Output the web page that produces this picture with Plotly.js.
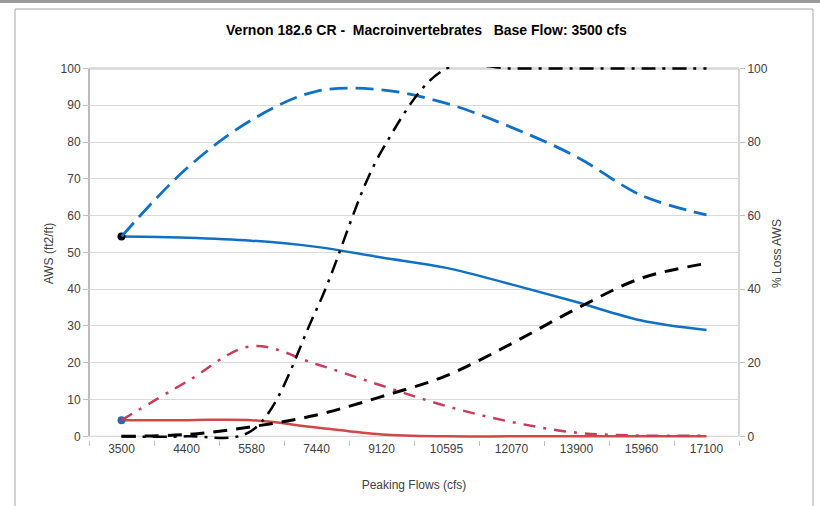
<!DOCTYPE html>
<html>
<head>
<meta charset="utf-8">
<script src="https://cdn.plot.ly/plotly-3.0.1.min.js"></script>
<style>
  html, body { margin: 0; padding: 0; background: #ffffff; }
  #chart { width: 820px; height: 506px; }
</style>
</head>
<body>
<div id="chart"></div>
<script>
// ---- data ----
const categories = ['3500', '4400', '5580', '7440', '9120', '10595', '12070', '13900', '15960', '17100'];
const blueSolid    = [54.3, 54.0, 53.2, 51.5, 48.6, 45.8, 41.3, 36.5, 31.5, 28.9];
const blueDashed   = [54.3, 72.8, 86.0, 93.8, 94.2, 90.5, 84.0, 76.0, 65.5, 60.2];
const redSolid     = [4.4, 4.4, 4.4, 2.4, 0.5, 0, 0, 0, 0, 0];
const redDashDot   = [4.4, 14.8, 24.5, 19.6, 13.8, 8.2, 3.9, 1.0, 0.2, 0.2];
const blackDashed  = [0, 0.5, 2.6, 5.8, 10.8, 16.5, 25.2, 34.7, 43.0, 47.0];
const blackDashDot = [0, 0, 1.5, 34.5, 77.5, 100, 100, 100, 100, 100];
const baseCategory = ['3500'];
const baseAwsHigh  = [54.3];
const baseAwsLow   = [4.4];
const leftTicks  = [0, 10, 20, 30, 40, 50, 60, 70, 80, 90, 100];
const rightTicks = [0, 20, 40, 60, 80, 100];

const BLUE = '#1170c4';
const RED = '#d0484a';
const PINK = '#c83c5c';
const BLACK = '#000000';

function line(y, color, width, dash, axis) {
  return {
    x: categories, y: y, type: 'scatter', mode: 'lines',
    yaxis: axis || 'y',
    line: { color: color, width: width, dash: dash, shape: 'spline', smoothing: 1 },
    hoverinfo: 'skip', showlegend: false
  };
}

const traces = [
  line(blueSolid, BLUE, 2.5, 'solid', 'y'),
  line(redSolid, RED, 2.5, 'solid', 'y'),
  line(blueDashed, BLUE, 2.8, '18px,8px', 'y2'),
  line(redDashDot, PINK, 2.5, '12px,8px,3px,8px', 'y2'),
  line(blackDashed, BLACK, 3, '14px,9px', 'y2'),
  line(blackDashDot, BLACK, 2.5, '14px,7px,3px,7px', 'y2'),
  { x: baseCategory, y: baseAwsHigh, type: 'scatter', mode: 'markers',
    marker: { color: '#000000', size: 8 }, hoverinfo: 'skip', showlegend: false, cliponaxis: false },
  { x: baseCategory, y: baseAwsLow, type: 'scatter', mode: 'markers',
    marker: { color: '#2a6aa8', size: 8 }, hoverinfo: 'skip', showlegend: false, cliponaxis: false }
];

const FONT = 'Liberation Sans, Arial, sans-serif';
const tickFont = { family: FONT, size: 12, color: '#404040' };
const Y_RANGE = [-1, 100.4];

const layout = {
  width: 820, height: 506,
  margin: { l: 89, r: 81, t: 67, b: 66 },
  paper_bgcolor: '#ffffff', plot_bgcolor: '#ffffff',
  showlegend: false,
  title: {
    text: '<b>Vernon 182.6 CR -  Macroinvertebrates   Base Flow: 3500 cfs</b>',
    font: { family: FONT, size: 14, color: '#000000' },
    x: 0.52, xref: 'container', xanchor: 'center',
    y: 1 - 30 / 506, yref: 'container', yanchor: 'middle'
  },
  xaxis: {
    type: 'category', categoryorder: 'array', categoryarray: categories,
    range: [-0.5, 9.5], tickson: 'boundaries',
    ticks: 'outside', ticklen: 5, tickcolor: '#bfbfbf',
    showgrid: false, zeroline: false, showline: false,
    tickfont: tickFont,
    title: { text: 'Peaking Flows (cfs)', font: { family: FONT, size: 12, color: '#404040' }, standoff: 25 }
  },
  yaxis: {
    range: Y_RANGE, tickmode: 'array', tickvals: leftTicks,
    ticks: 'outside', ticklen: 5, tickcolor: '#bfbfbf',
    showgrid: true, gridcolor: '#d9d9d9', gridwidth: 1,
    zeroline: false, showline: false,
    tickfont: tickFont,
    title: { text: 'AWS (ft2/ft)', font: { family: FONT, size: 12, color: '#404040' }, standoff: 4 }
  },
  yaxis2: {
    overlaying: 'y', side: 'right',
    range: Y_RANGE, tickmode: 'array', tickvals: rightTicks,
    ticks: 'outside', ticklen: 5, tickcolor: '#bfbfbf',
    showgrid: false, zeroline: false, showline: false,
    tickfont: tickFont,
    title: { text: '% Loss AWS', font: { family: FONT, size: 12, color: '#404040' }, standoff: 5 }
  },
  shapes: [
    // top band of the screenshot
    { type: 'line', xref: 'paper', yref: 'paper', x0: -89 / 650, x1: 731 / 650, y0: 1 + 65.5 / 373, y1: 1 + 65.5 / 373,
      line: { color: '#9a9a9a', width: 3 } },
    // outer chart frame
    { type: 'rect', xref: 'paper', yref: 'paper', x0: -74 / 650, x1: 724 / 650, y0: -80 / 373, y1: 1 + 58 / 373,
      line: { color: '#a6a6a6', width: 1 }, fillcolor: 'rgba(0,0,0,0)', layer: 'below' },
    // left axis line
    { type: 'line', xref: 'paper', yref: 'y', x0: 0, x1: 0, y0: 0, y1: 100, line: { color: '#a6a6a6', width: 1.5 }, layer: 'below' },
    // right axis line
    { type: 'line', xref: 'paper', yref: 'y', x0: 1, x1: 1, y0: 0, y1: 100, line: { color: '#c8c8c8', width: 1.5 }, layer: 'below' },
    // bottom axis line
    { type: 'line', xref: 'paper', yref: 'y', x0: 0, x1: 1, y0: 0, y1: 0, line: { color: '#bfbfbf', width: 1 }, layer: 'below' },
    // top border
    { type: 'line', xref: 'paper', yref: 'y', x0: 0, x1: 1, y0: 100, y1: 100, line: { color: '#7f7f7f', width: 1.5 }, layer: 'below' }
  ]
};

Plotly.newPlot('chart', traces, layout, { displayModeBar: false, staticPlot: true });
</script>
</body>
</html>
